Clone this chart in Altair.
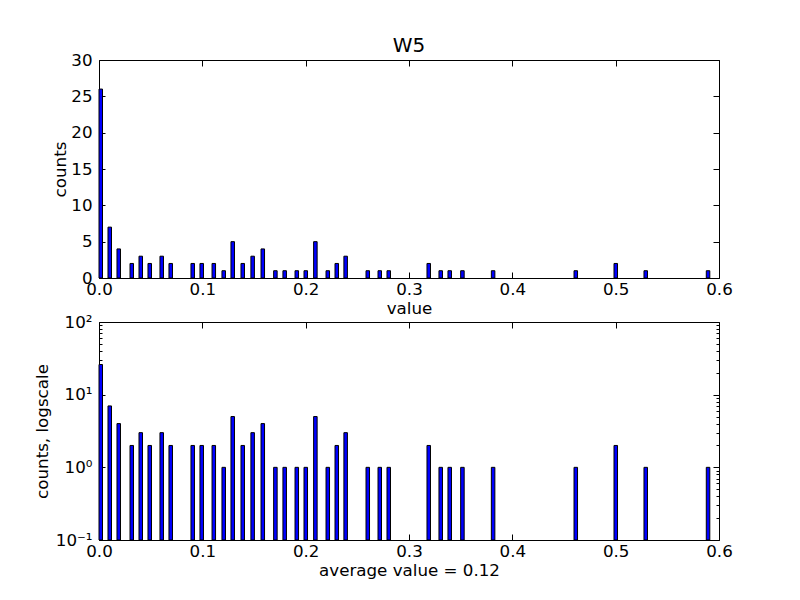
import altair as alt
import pandas as pd

# histogram bars: left edge of each bin (value) and its count
bin_left = [0.0, 0.0087, 0.0174, 0.030, 0.0387, 0.0474, 0.059, 0.0677, 0.089, 0.0977,
            0.1094, 0.119, 0.1277, 0.1374, 0.147, 0.1568, 0.169, 0.178, 0.1897, 0.1984,
            0.2077, 0.2197, 0.2284, 0.237, 0.2584, 0.27, 0.2787, 0.3174, 0.329, 0.3377,
            0.35, 0.3797, 0.4597, 0.4984, 0.5274, 0.5877]
counts = [26, 7, 4, 2, 3, 2, 3, 2, 2, 2,
          2, 1, 5, 2, 3, 4, 1, 1, 1, 1,
          5, 1, 2, 3, 1, 1, 1, 2, 1, 1,
          1, 1, 1, 2, 1, 1]
bin_width = 0.0034

x_ticks = [0.0, 0.1, 0.2, 0.3, 0.4, 0.5, 0.6]
y_ticks_lin = [0, 5, 10, 15, 20, 25, 30]
y_ticks_log = [0.1, 1, 10, 100]
y_minor_log = [0.2, 0.3, 0.4, 0.5, 0.6, 0.7, 0.8, 0.9,
               2, 3, 4, 5, 6, 7, 8, 9,
               20, 30, 40, 50, 60, 70, 80, 90]

df = pd.DataFrame({
    "left": bin_left,
    "right": [b + bin_width for b in bin_left],
    "count": counts,
    "base0": [0] * len(counts),
    "base": [0.1] * len(counts),
})

W, H = 620, 218
FONT = "DejaVu Sans"
FS = 16.7
TICK_MAJOR = 6
TICK_MINOR = 3


def tick_axis(orient, values, size, offset):
    return alt.Axis(orient=orient, values=values, offset=offset, labels=False, domain=False,
                    grid=False, ticks=True, tickSize=size, tickColor="black", tickWidth=1,
                    title=None)


def panel(log, ytitle, xtitle, title=None):
    xscale = alt.Scale(domain=[0, 0.6], nice=False, zero=False, padding=0)
    if log:
        yscale = alt.Scale(type="log", domain=[0.1, 100], nice=False, clamp=True, padding=0)
        yvals = y_ticks_log
        ylabel = ("datum.value == 0.1 ? '10\u207b\u00b9' : datum.value == 1 ? '10\u2070' : "
                  "datum.value == 10 ? '10\u00b9' : '10\u00b2'")
        ytitle_pad = 4
        y2 = "base"
    else:
        yscale = alt.Scale(domain=[0, 30], nice=False, zero=True, padding=0)
        yvals = y_ticks_lin
        ylabel = "datum.label"
        ytitle_pad = 1
        y2 = "base0"

    base = alt.Chart(df)
    enc_y_main = alt.Y("count:Q", scale=yscale,
                       axis=alt.Axis(orient="left", values=yvals, labelExpr=ylabel, ticks=False,
                                     domain=False, grid=False, title=ytitle, labelFontSize=FS,
                                     labelPadding=7, titleFontSize=FS, titleFontWeight="normal",
                                     titlePadding=ytitle_pad, labelColor="black", titleColor="black",
                                     labelFlush=False))
    bars = base.mark_bar(color="#0000ff", stroke="black", strokeWidth=1, orient="vertical").encode(
        x=alt.X("left:Q", scale=xscale,
                axis=alt.Axis(orient="bottom", values=x_ticks, format=".1f", ticks=False,
                              domain=False, grid=False, title=xtitle, labelFontSize=FS,
                              labelPadding=3, titleFontSize=FS, titleFontWeight="normal",
                              titlePadding=3, labelColor="black", titleColor="black",
                              labelFlush=False)),
        x2="right",
        y=enc_y_main,
        y2=y2,
    )

    # inward ticks: bottom edge & left edge
    t1 = base.mark_point(opacity=0).encode(
        x=alt.X("left:Q", scale=xscale, axis=tick_axis("top", x_ticks, TICK_MAJOR, -H)),
        y=alt.Y("count:Q", scale=yscale, axis=tick_axis("right", yvals, TICK_MAJOR, -W)),
    )
    # inward ticks: top edge & right edge
    t2 = base.mark_point(opacity=0).encode(
        x=alt.X("left:Q", scale=xscale, axis=tick_axis("bottom", x_ticks, TICK_MAJOR, -H)),
        y=alt.Y("count:Q", scale=yscale, axis=tick_axis("left", yvals, TICK_MAJOR, -W)),
    )
    layers = [bars, t1, t2]
    if log:
        t3 = base.mark_point(opacity=0).encode(
            x=alt.X("left:Q", scale=xscale, axis=None),
            y=alt.Y("count:Q", scale=yscale, axis=tick_axis("right", y_minor_log, TICK_MINOR, -W)),
        )
        t4 = base.mark_point(opacity=0).encode(
            x=alt.X("left:Q", scale=xscale, axis=None),
            y=alt.Y("count:Q", scale=yscale, axis=tick_axis("left", y_minor_log, TICK_MINOR, -W)),
        )
        layers += [t3, t4]
    ch = alt.layer(*layers).resolve_axis(x="independent", y="independent").properties(width=W, height=H)
    if title:
        ch = ch.properties(title=alt.TitleParams(title, fontSize=20, fontWeight="normal",
                                                 font=FONT, offset=-4, frame="group",
                                                 color="black"))
    return ch


top = panel(False, "counts", "value", "W5")
bottom = panel(True, "counts, logscale", "average value = 0.12")

chart = alt.vconcat(top, bottom, spacing=44, bounds="flush").properties(
    padding={"left": 33, "top": 35, "right": 5, "bottom": 5},
    background="white",
).configure(font=FONT).configure_view(stroke="black", strokeWidth=1)

chart.save("out.html", embed_options={"renderer": "svg", "actions": False})
